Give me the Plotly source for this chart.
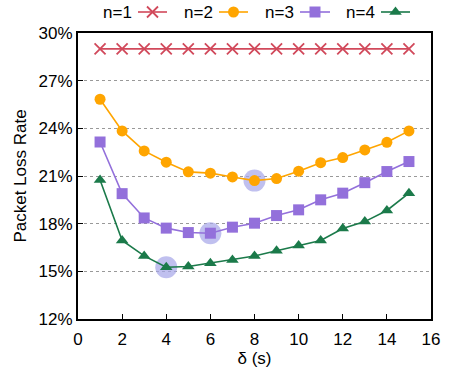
import plotly.graph_objects as go
import numpy as np

delta = list(range(1, 16))
n1 = [29.0] * 15
n2 = [25.83, 23.84, 22.58, 21.87, 21.26, 21.18, 20.94, 20.71, 20.84, 21.30, 21.84, 22.16, 22.64, 23.12, 23.84]
n3 = [23.14, 19.89, 18.36, 17.72, 17.44, 17.40, 17.78, 18.03, 18.51, 18.87, 19.50, 19.92, 20.58, 21.28, 21.91]
n4 = [20.75, 16.94, 15.97, 15.26, 15.30, 15.51, 15.72, 15.97, 16.29, 16.62, 16.94, 17.70, 18.13, 18.83, 19.92]
names = ["n=1", "n=2", "n=3", "n=4"]
y_ticks = [12, 15, 18, 21, 24, 27, 30]
x_ticks = [0, 2, 4, 6, 8, 10, 12, 14, 16]

colors = ["#d1495b", "#ffa500", "#9370db", "#1b7a4a"]
symbols = ["x-thin", "circle", "square", "triangle-up"]
series = [n1, n2, n3, n4]

FONT = "Liberation Sans, Arial, sans-serif"
FS = 17
W, H = 449, 375
L, R, T, B = 78, 18, 0, 56
PH = H - T - B          # 319 px of paper height
TOPBAND = 33            # px above the main plot for the legend band
main_top = (PH - TOPBAND) / PH

def marker(sym, c, size=11):
    mk = dict(symbol=sym, size=size, color=c)
    if sym == "x-thin":
        mk["line"] = dict(color=c, width=1.8)
    return mk

fig = go.Figure()

# highlight circles at minima of n=2..4
hx, hy = [], []
for s in series[1:]:
    i = int(np.argmin(s))
    hx.append(delta[i]); hy.append(s[i])
fig.add_trace(go.Scatter(x=hx, y=hy, mode="markers", showlegend=False, hoverinfo="skip",
                         marker=dict(size=22, color="rgba(165,165,232,0.7)", line=dict(width=0))))

for s, c, sym, nm in zip(series, colors, symbols, names):
    fig.add_trace(go.Scatter(x=delta, y=s, mode="lines+markers", name=nm, showlegend=False,
                             line=dict(color=c, width=1.6), marker=marker(sym, c)))

# custom legend band (text before sample, as in the reference); x2/y2 are pixel-like units
leg_text_x = [101, 182, 263, 344]
leg_line = [(138, 167), (219, 248), (300, 330), (381, 410)]
leg_y = 12
for nm, c, sym, tx, (a, b) in zip(names, colors, symbols, leg_text_x, leg_line):
    fig.add_trace(go.Scatter(x=[a, (a + b) / 2, b], y=[leg_y] * 3, xaxis="x2", yaxis="y2",
                             mode="lines", line=dict(color=c, width=1.6),
                             showlegend=False, hoverinfo="skip"))
    fig.add_trace(go.Scatter(x=[(a + b) / 2], y=[leg_y], xaxis="x2", yaxis="y2", mode="markers",
                             marker=marker(sym, c), showlegend=False, hoverinfo="skip",
                             cliponaxis=False))
    fig.add_annotation(x=tx, y=leg_y, xref="x2", yref="y2", text=nm, showarrow=False,
                       xanchor="left", yanchor="middle",
                       font=dict(family=FONT, size=FS, color="black"))

fig.update_layout(
    width=W, height=H,
    margin=dict(l=L, r=R, t=T, b=B, autoexpand=False),
    plot_bgcolor="white", paper_bgcolor="white",
    font=dict(family=FONT, size=FS, color="black"),
    showlegend=False,
    xaxis=dict(range=[0, 16], tickvals=x_ticks, ticktext=[str(v) for v in x_ticks],
               domain=[0, 1], anchor="y", automargin=False,
               showgrid=False, zeroline=False, showline=True, mirror=True,
               linecolor="black", linewidth=2, ticks="inside", ticklen=5, tickcolor="black",
               tickfont=dict(size=FS), ticklabelstandoff=4,
               title=dict(text="δ (s)", standoff=0, font=dict(family=FONT, size=FS))),
    yaxis=dict(range=[12, 30], tickvals=y_ticks, ticktext=[f"{v}%" for v in y_ticks],
               domain=[0, main_top], anchor="x", automargin=False,
               showgrid=True, gridcolor="#999999", griddash="dot", gridwidth=1,
               zeroline=False, showline=True, mirror=True,
               linecolor="black", linewidth=2, ticks="inside", ticklen=5, tickcolor="black",
               tickfont=dict(size=FS),
               title=dict(text="Packet Loss Rate", standoff=8, font=dict(family=FONT, size=FS))),
    xaxis2=dict(range=[L, W - R], domain=[0, 1], anchor="y2", visible=False, fixedrange=True),
    yaxis2=dict(range=[TOPBAND, 0], domain=[main_top, 1], anchor="x2", visible=False, fixedrange=True),
)

fig.write_html("out.html", post_script="document.body.style.margin='0';",
               config={"displayModeBar": False})
